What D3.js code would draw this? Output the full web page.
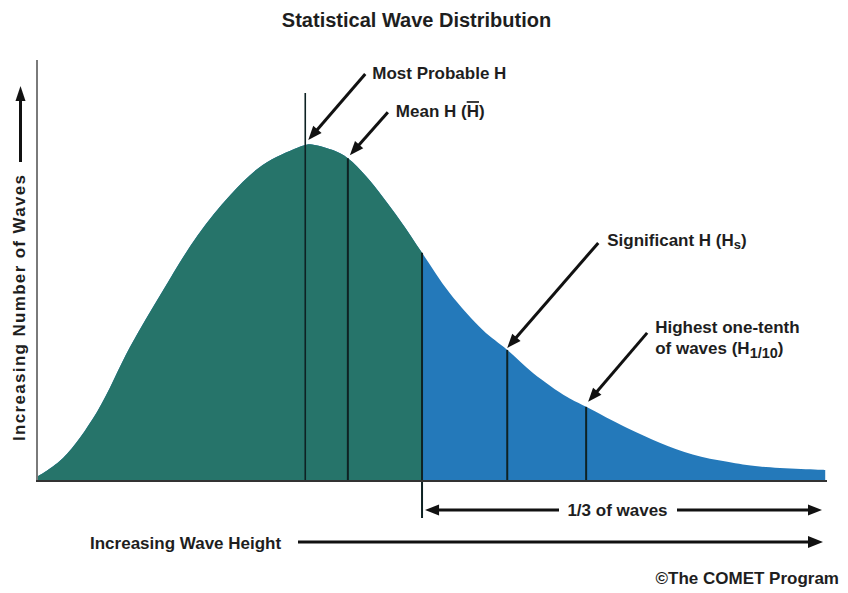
<!DOCTYPE html>
<html><head><meta charset="utf-8">
<script src="https://cdn.jsdelivr.net/npm/d3@7"></script>
<style>
html,body{margin:0;padding:0;background:#fff;}
svg{display:block;}
text{font-family:"Liberation Sans",Arial,Helvetica,sans-serif;font-weight:bold;fill:#1e1e1e;}
</style>
</head><body>
<svg id="c" width="848" height="593"></svg>
<script>
// ---- data ----
const waveHeight = [0, 0.33, 0.76, 1.18, 1.60, 2.03, 2.45, 2.86, 3.30, 3.40, 3.46, 3.75, 3.94, 4.18, 4.60, 4.88, 5.23, 5.65, 5.96, 6.29, 6.72, 6.96, 7.48, 7.90, 8.31, 8.75, 9.16, 9.99];
const waveCount  = [1.2, 6.8, 20.5, 39.8, 56.7, 72.7, 84.9, 93.8, 98.9, 99.7, 99.95, 98.2, 95.8, 90.2, 77.4, 67.7, 55.8, 44.8, 38.9, 32.0, 24.9, 22.0, 15.7, 11.3, 7.9, 5.7, 4.3, 3.3];
const markerKeys    = ["mostProbable", "mean", "split", "significant", "tenth"];
const markerHeights = [3.40, 3.94, 4.88, 5.96, 6.96];
const splitHeight = 4.88;
const titleText = "Statistical Wave Distribution";
const yLabelText = "Increasing Number of Waves";
const xLabelText = "Increasing Wave Height";
const thirdText = "1/3 of waves";
const creditText = "\u00A9The COMET Program";

// ---- setup ----
const W = 848, H = 593;
const svg = d3.select("#c");
svg.append("rect").attr("width", W).attr("height", H).attr("fill", "#fff");

const x = d3.scaleLinear().domain([0, 10]).range([37, 826]);
const y = d3.scaleLinear().domain([0, 100]).range([481, 144]);

const data = waveHeight.map((h, i) => ({h, c: waveCount[i]}));
const countAt = h => data.find(d => Math.abs(d.h - h) < 1e-9).c;

const area = d3.area()
  .x(d => x(d.h)).y0(y(0)).y1(d => y(d.c))
  .curve(d3.curveCatmullRom.alpha(0.5));

svg.append("clipPath").attr("id", "lowPart")
  .append("rect").attr("x", 0).attr("y", 0).attr("width", x(splitHeight)).attr("height", H);

svg.append("path").datum(data).attr("d", area).attr("fill", "#2479ba");
svg.append("path").datum(data).attr("d", area).attr("fill", "#26746a").attr("clip-path", "url(#lowPart)");

// vertical marker lines
const markers = markerKeys.map((k, i) => ({key: k, h: markerHeights[i], c: countAt(markerHeights[i])}));
const lineColor = "#0e2223";
markers.forEach(m => {
  let top = y(m.c), bottom = y(0);
  if (m.key === "mostProbable") top = y(m.c) - 52;
  if (m.key === "split") bottom = y(0) + 37;
  svg.append("line")
    .attr("x1", x(m.h)).attr("x2", x(m.h))
    .attr("y1", top).attr("y2", bottom)
    .attr("stroke", lineColor).attr("stroke-width", m.key === "mostProbable" ? 1.6 : 2);
});

// axes
svg.append("line").attr("x1", x(0)).attr("x2", x(0)).attr("y1", 60).attr("y2", y(0) + 1)
  .attr("stroke", "#7a7a7a").attr("stroke-width", 2);
svg.append("line").attr("x1", x(0) - 1).attr("x2", x(10) + 1).attr("y1", y(0)).attr("y2", y(0))
  .attr("stroke", "#333").attr("stroke-width", 2);

// arrow helper
function arrow(x1, y1, x2, y2, sw = 3, L = 14, Wd = 11, color = "#111") {
  const dx = x2 - x1, dy = y2 - y1, len = Math.hypot(dx, dy);
  const ux = dx / len, uy = dy / len, nx = -uy, ny = ux;
  const bx = x2 - ux * L, by = y2 - uy * L;
  svg.append("line").attr("x1", x1).attr("y1", y1).attr("x2", bx + ux * 2).attr("y2", by + uy * 2)
    .attr("stroke", color).attr("stroke-width", sw);
  svg.append("path")
    .attr("d", `M${x2},${y2}L${bx + nx * Wd / 2},${by + ny * Wd / 2}L${bx - nx * Wd / 2},${by - ny * Wd / 2}Z`)
    .attr("fill", color);
}

// title
svg.append("text").attr("x", 416.5).attr("y", 26.5).attr("text-anchor", "middle")
  .attr("font-size", 20).text(titleText);

// annotations anchored to marker points on curve
const mk = Object.fromEntries(markers.map(m => [m.key, [x(m.h), y(m.c)]]));

// Most probable
{
  const [px, py] = mk.mostProbable;
  arrow(px + 60, py - 71, px + 3, py - 5);
  svg.append("text").attr("x", px + 67).attr("y", py - 66).attr("font-size", 17).text("Most Probable H");
}
// Mean
{
  const [px, py] = mk.mean;
  arrow(px + 40, py - 46, px + 2, py - 3);
  const t = svg.append("text").attr("x", px + 48).attr("y", py - 41).attr("font-size", 17);
  t.append("tspan").text("Mean H (");
  t.append("tspan").style("text-decoration", "overline").text("H");
  t.append("tspan").text(")");
}
// Significant
{
  const [px, py] = mk.significant;
  arrow(px + 91, py - 107, px, py - 2);
  const t = svg.append("text").attr("x", px + 100).attr("y", py - 104).attr("font-size", 17);
  t.append("tspan").text("Significant H (H");
  t.append("tspan").attr("font-size", 13).attr("dy", 3).text("s");
  t.append("tspan").attr("dy", -3).text(")");
}
// Highest one-tenth
{
  const [px, py] = mk.tenth;
  arrow(px + 61, py - 74, px + 2, py - 5);
  svg.append("text").attr("x", px + 69).attr("y", py - 74).attr("font-size", 17).text("Highest one-tenth");
  const t = svg.append("text").attr("x", px + 69).attr("y", py - 53).attr("font-size", 17);
  t.append("tspan").text("of waves (H");
  t.append("tspan").attr("font-size", 14.5).attr("dy", 4).text("1/10");
  t.append("tspan").attr("dy", -4).text(")");
}

// 1/3 of waves
{
  const sx = x(splitHeight), ay = 510;
  svg.append("text").attr("x", 617.5).attr("y", 516).attr("text-anchor", "middle")
    .attr("font-size", 17).text(thirdText);
  arrow(559, ay, sx + 3, ay, 3, 14, 11);
  arrow(677, ay, 822, ay, 3, 14, 11);
}

// x label & arrow
svg.append("text").attr("x", 90).attr("y", 549).attr("font-size", 17).text(xLabelText);
arrow(298, 542, 823, 542, 3, 15, 12);

// y label & arrow
svg.append("text").attr("transform", "translate(25,441) rotate(-90)")
  .attr("font-size", 17).attr("textLength", 266).attr("lengthAdjust", "spacing").text(yLabelText);
arrow(20.5, 162, 20.5, 86, 3, 15, 10);

// credit
svg.append("text").attr("x", 839).attr("y", 584).attr("text-anchor", "end")
  .attr("font-size", 17).text(creditText);
</script>
</body></html>
